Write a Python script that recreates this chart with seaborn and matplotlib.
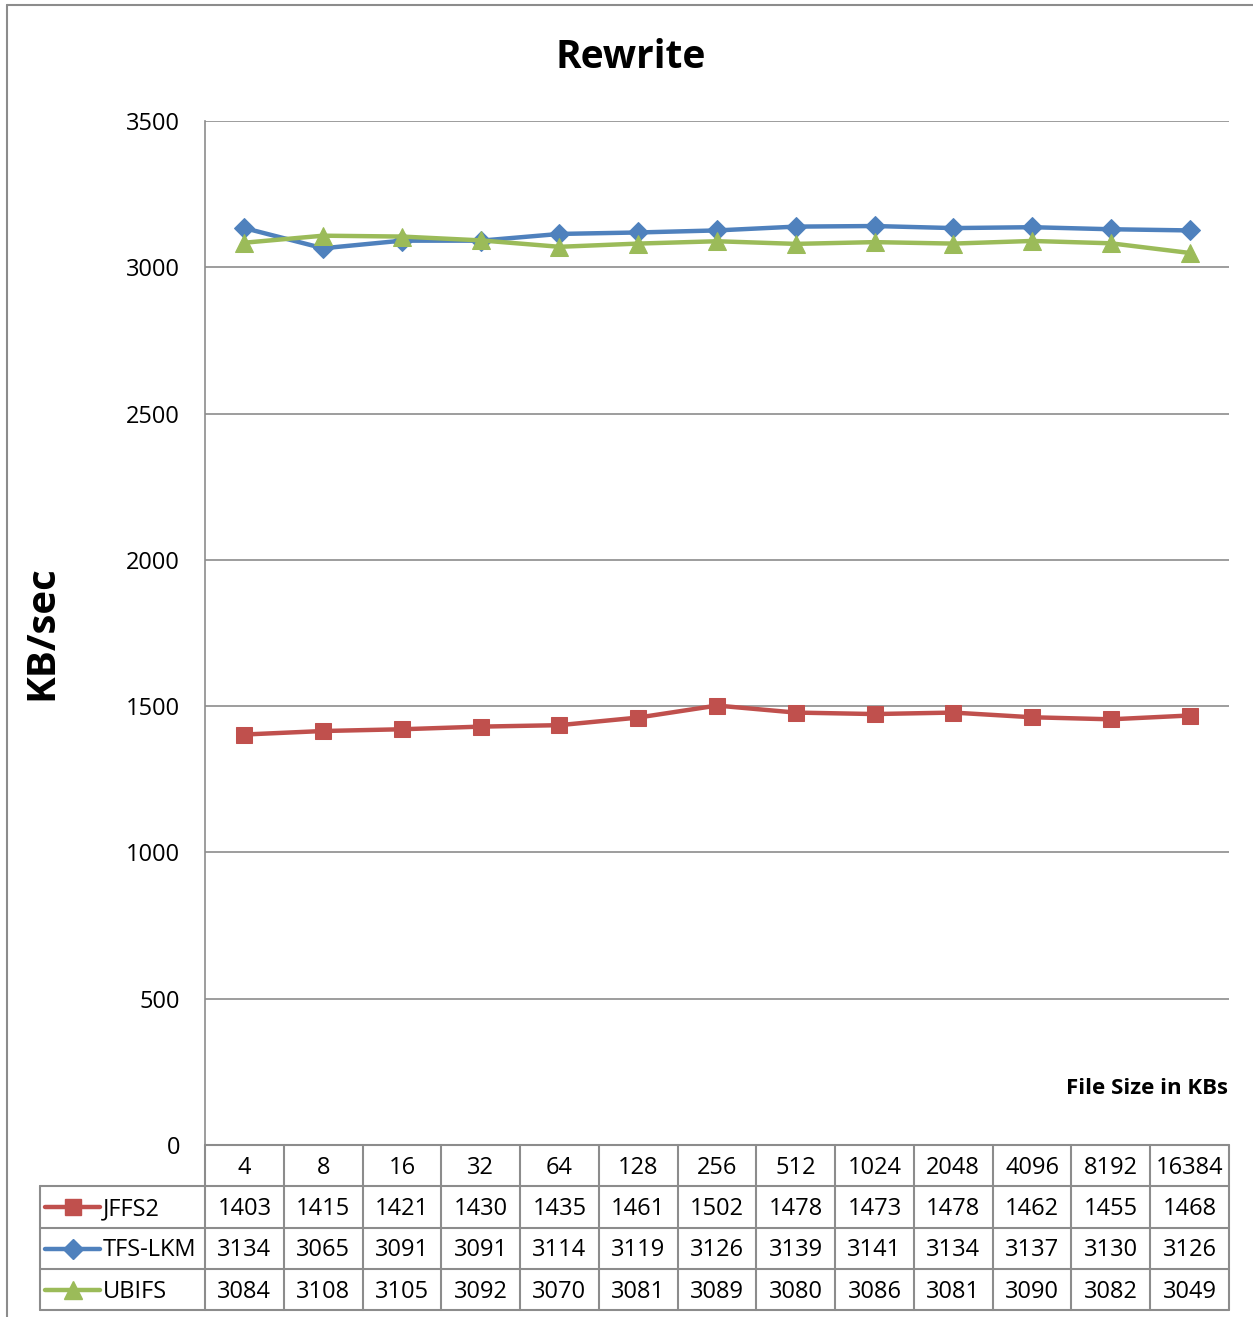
import matplotlib
matplotlib.use("Agg")
import matplotlib.pyplot as plt
import matplotlib.transforms as mtransforms
from matplotlib.lines import Line2D
import seaborn as sns
import pandas as pd

file_sizes = ["4", "8", "16", "32", "64", "128", "256", "512", "1024", "2048", "4096", "8192", "16384"]
jffs2 = [1403, 1415, 1421, 1430, 1435, 1461, 1502, 1478, 1473, 1478, 1462, 1455, 1468]
tfs_lkm = [3134, 3065, 3091, 3091, 3114, 3119, 3126, 3139, 3141, 3134, 3137, 3130, 3126]
ubifs = [3084, 3108, 3105, 3092, 3070, 3081, 3089, 3080, 3086, 3081, 3090, 3082, 3049]
series_names = ["JFFS2", "TFS-LKM", "UBIFS"]
y_ticks = [0, 500, 1000, 1500, 2000, 2500, 3000, 3500]

colors = {"JFFS2": "#C0504D", "TFS-LKM": "#4F81BD", "UBIFS": "#9BBB59"}
markers = {"JFFS2": "s", "TFS-LKM": "D", "UBIFS": "^"}
msizes = {"JFFS2": 12, "TFS-LKM": 10, "UBIFS": 13}

sns.set_theme(style="white")
plt.rcParams["font.family"] = ["Open Sans", "DejaVu Sans"]
plt.rcParams["text.color"] = "black"
plt.rcParams["ytick.color"] = "black"

rows = []
for name, vals in zip(series_names, [jffs2, tfs_lkm, ubifs]):
    for i, v in enumerate(vals):
        rows.append({"pos": i, "size": file_sizes[i], "series": name, "value": v})
df = pd.DataFrame(rows)

W, H = 1253, 1317
fig = plt.figure(figsize=(W / 100, H / 100), dpi=100)
ax = fig.add_axes([205 / W, 1 - 1145 / H, 1024 / W, 1024 / H])

grid_c = "#8C8C8C"
for yt in y_ticks:
    ax.axhline(yt, color=grid_c, lw=1.2, zorder=0)

for name in series_names:
    sub = df[df.series == name]
    sns.lineplot(data=sub, x="pos", y="value", color=colors[name], marker=markers[name],
                 markersize=msizes[name], markeredgecolor=colors[name], linewidth=3.2,
                 ax=ax, legend=False, zorder=3)

FS = 17
ax.set_xlim(-0.5, len(file_sizes) - 0.5)
ax.set_ylim(0, 3500)
ax.set_yticks(y_ticks)
ax.set_yticklabels([str(t) for t in y_ticks], fontsize=FS, color="black")
ax.tick_params(axis="y", length=0, pad=18)
ax.set_xticks([])
ax.set_xlabel("")
ax.set_ylabel("")
for s in ["top", "right", "bottom"]:
    ax.spines[s].set_visible(False)
ax.spines["left"].set_color(grid_c)
ax.spines["left"].set_linewidth(1.2)

# Title and axis labels
fig.text(631 / W, 1 - 58 / H, "Rewrite", ha="center", va="center", fontsize=28, fontweight="bold", color="black")
fig.text(42 / W, 1 - 633 / H, "KB/sec", ha="center", va="center", rotation=90, fontsize=29, fontweight="bold", color="black")
fig.text(1228 / W, 1 - 1089 / H, "File Size in KBs", ha="right", va="center", fontsize=16, fontweight="bold", color="black")

# Data table below the axes
trans = mtransforms.blended_transform_factory(ax.transData, ax.transAxes)
def yax(py):
    return (1145 - py) / 1024.0
row_edges = [1145, 1186, 1228, 1269, 1310]
ys = [yax(p) for p in row_edges]
dy = -2 / 1024.0
xl_leg = (40 - 205) / 1024.0
tc = "#8C8C8C"
lw_t = 1.5
n = len(file_sizes)
ax.add_line(Line2D([-0.5, n - 0.5], [ys[0], ys[0]], transform=trans, color=tc, lw=lw_t, clip_on=False))
for yv in ys[1:]:
    ax.add_line(Line2D([xl_leg, 1], [yv, yv], transform=ax.transAxes, color=tc, lw=lw_t, clip_on=False))
for i in range(n + 1):
    ax.add_line(Line2D([i - 0.5, i - 0.5], [ys[0], ys[-1]], transform=trans, color=tc, lw=lw_t, clip_on=False))
ax.add_line(Line2D([xl_leg, xl_leg], [ys[1], ys[-1]], transform=ax.transAxes, color=tc, lw=lw_t, clip_on=False))

for i, fs in enumerate(file_sizes):
    ax.text(i, (ys[0] + ys[1]) / 2 + dy, fs, transform=trans, ha="center", va="center", fontsize=FS, color="black")
for r, (name, vals) in enumerate(zip(series_names, [jffs2, tfs_lkm, ubifs])):
    yc = (ys[r + 1] + ys[r + 2]) / 2
    for i, v in enumerate(vals):
        ax.text(i, yc + dy, str(v), transform=trans, ha="center", va="center", fontsize=FS, color="black")
    x0 = (45 - 205) / 1024.0
    x1 = (100 - 205) / 1024.0
    ax.add_line(Line2D([x0, x1], [yc, yc], transform=ax.transAxes, color=colors[name], lw=3.2, clip_on=False))
    ax.add_line(Line2D([(x0 + x1) / 2], [yc], transform=ax.transAxes, color=colors[name], marker=markers[name],
                       markersize=msizes[name], markeredgecolor=colors[name], clip_on=False))
    ax.text((103 - 205) / 1024.0, yc + dy, name, transform=ax.transAxes, ha="left", va="center", fontsize=FS, color="black")

# figure border (top and left)
fig.add_artist(Line2D([7 / W, 1], [1 - 5 / H, 1 - 5 / H], transform=fig.transFigure, color="#8C8C8C", lw=1.5))
fig.add_artist(Line2D([7 / W, 7 / W], [0, 1 - 5 / H], transform=fig.transFigure, color="#8C8C8C", lw=1.5))

fig.savefig("out.png", dpi=100)
